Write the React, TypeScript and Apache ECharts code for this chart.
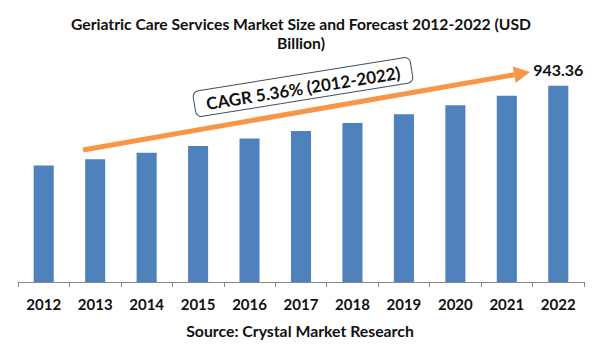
import React, { useEffect, useRef } from "react";
import * as echarts from "echarts";

const years = ["2012", "2013", "2014", "2015", "2016", "2017", "2018", "2019", "2020", "2021", "2022"];
const marketSize = [560, 590, 621, 654, 690, 726, 765, 806, 850, 895, 943.36];
const titleText = "Geriatric Care Services Market Size and Forecast 2012-2022 (USD\nBillion)";
const sourceText = "Source: Crystal Market Research";
const cagrText = "CAGR 5.36% (2012-2022)";

const FONT = "Lato, 'Noto Sans', sans-serif";

export default function App() {
  const ref = useRef<HTMLDivElement>(null);
  useEffect(() => {
    document.body.style.margin = "0";
    if (!ref.current) return;
    const chart = echarts.init(ref.current, null, { renderer: "svg" });
    const tip = [530, 72];
    const start = [83, 150];
    const dx = tip[0] - start[0];
    const dy = tip[1] - start[1];
    const len = Math.sqrt(dx * dx + dy * dy);
    const ux = dx / len, uy = dy / len;
    const headLen = 16, headHalf = 8.5;
    const base = [tip[0] - ux * headLen, tip[1] - uy * headLen];
    const nx = -uy, ny = ux;
    chart.setOption({
      animation: false,
      backgroundColor: "#ffffff",
      grid: { left: 18, right: 16, top: 74, bottom: 78, containLabel: false },
      xAxis: {
        type: "category",
        data: years,
        axisLine: { lineStyle: { color: "#868686", width: 1 } },
        axisTick: { show: true, length: 5, lineStyle: { color: "#868686" } },
        axisLabel: { fontFamily: FONT, fontWeight: "bold", fontSize: 15, color: "#111", margin: 14 },
      },
      yAxis: {
        type: "value",
        min: 0,
        max: 1000,
        show: false,
        splitLine: { show: false },
      },
      series: [
        {
          type: "bar",
          data: marketSize.map((v, i) => ({
            value: v,
            label: i === marketSize.length - 1
              ? { show: true, position: "top", distance: 8, formatter: (p: any) => String(p.value.toFixed(2)), fontFamily: FONT, fontWeight: "bold", fontSize: 16, color: "#111" }
              : { show: false },
          })),
          barWidth: "39%",
          itemStyle: { color: "#4F81BD" },
        },
      ],
      graphic: [
        {
          type: "text",
          x: 301,
          y: 33,
          style: { text: titleText, x: 0, y: 0, align: "center", verticalAlign: "middle", font: `bold 15.7px ${FONT}`, lineHeight: 19, fill: "#111" },
        },
        {
          type: "text",
          x: 300,
          y: 330,
          style: { text: sourceText, x: 0, y: 0, align: "center", verticalAlign: "middle", font: `bold 15.8px ${FONT}`, fill: "#111" },
        },
        {
          type: "line",
          z: 10,
          shape: { x1: start[0], y1: start[1], x2: base[0], y2: base[1] },
          style: { stroke: "#F79646", lineWidth: 5 },
        },
        {
          type: "polygon",
          z: 10,
          shape: {
            points: [
              tip,
              [base[0] + nx * headHalf, base[1] + ny * headHalf],
              [base[0] - nx * headHalf, base[1] - ny * headHalf],
            ],
          },
          style: { fill: "#F79646" },
        },
        {
          type: "group",
          x: 303,
          y: 87,
          rotation: 0.16,
          z: 20,
          children: [
            {
              type: "rect",
              shape: { x: -110, y: -13, width: 220, height: 26, r: 6 },
              style: { fill: "#ffffff", stroke: "#3f4f63", lineWidth: 1 },
            },
            {
              type: "text",
              style: { text: cagrText, x: 0, y: 1, align: "center", verticalAlign: "middle", font: `bold 17px ${FONT}`, fill: "#111" },
            },
          ],
        },
      ],
    });
    return () => chart.dispose();
  }, []);
  return <div ref={ref} style={{ width: 600, height: 360 }} />;
}
